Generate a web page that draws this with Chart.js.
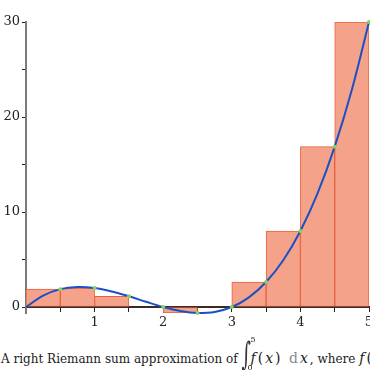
<!DOCTYPE html>
<html>
<head>
<meta charset="utf-8">
<script src="https://cdn.jsdelivr.net/npm/chart.js@4/dist/chart.umd.min.js"></script>
<style>
  html, body { margin: 0; padding: 0; background: #fff; width: 370px; height: 370px; overflow: hidden; }
  #wrap { position: absolute; left: 0; top: 0; width: 390px; height: 335px; }
  #caption { position: absolute; left: 1px; top: 351px; white-space: nowrap; font: 12px 'DejaVu Serif', serif; color: #222; line-height: 14px; }
  .m { font-size: 14px; letter-spacing: 2px; }
  .m i { font-style: italic; }
  .int { position: relative; display: inline-block; width: 9px; height: 14px; vertical-align: top; }
  .int .sign { position: absolute; left: 0px; top: -6px; font-size: 18px; line-height: 18px; color: #333; transform: scaleY(1.8); }
  .int .hi { position: absolute; left: 9px; top: -15px; font-size: 8px; line-height: 8px; }
  .int .lo { position: absolute; left: 6px; top: 13px; font-size: 8px; line-height: 8px; }
  .d { color: #888; font-style: normal; }
</style>
</head>
<body>
<div id="wrap"><canvas id="riemann" width="390" height="335"></canvas></div>
<div id="caption">A right Riemann sum approximation of <span class="int"><span class="sign">∫</span><span class="hi">5</span><span class="lo">0</span></span><span class="m"><i>f</i>(<i>x</i>) <span class="d">d</span><i>x</i></span>, where <span class="m"><i>f</i>(<i>x</i>) = <i>x</i>(<i>x</i> − 2)(<i>x</i> − 3)</span></div>
<script>
// 長方形（右端点）: 中心と高さ
const rectCenters = [0.25, 0.75, 1.25, 1.75, 2.25, 2.75, 3.25, 3.75, 4.25, 4.75];
const rectHeights = [1.88, 2.0, 1.13, 0, -0.63, 0, 2.63, 8.0, 16.88, 30.0];
// 右端点の標本
const sampleX = [0.5, 1, 1.5, 2, 2.5, 3, 3.5, 4, 4.5, 5];
// 曲線
const curveX = [0, 0.25, 0.5, 0.75, 1, 1.25, 1.5, 1.75, 2, 2.25, 2.5, 2.75, 3, 3.25, 3.5, 3.75, 4, 4.25, 4.5, 4.75, 5];
const curveY = [0, 1.2, 1.88, 2.11, 2.0, 1.64, 1.13, 0.55, 0, -0.42, -0.63, -0.52, 0, 1.02, 2.63, 4.92, 8.0, 11.95, 16.88, 22.86, 30.0];
// 目盛り
const xTicks = [0, 0.5, 1, 1.5, 2, 2.5, 3, 3.5, 4, 4.5, 5];
const xLabels = ['', '', '1', '', '2', '', '3', '', '4', '', '5'];
const yTicks = [0, 5, 10, 15, 20, 25, 30];
const yLabels = ['0', '', '10', '', '20', '', '30'];

const ctx = document.getElementById('riemann').getContext('2d');
const tickFont = { family: "'DejaVu Serif', serif", size: 13 };

new Chart(ctx, {
    type: 'bar',
    data: {
        datasets: [
            {
                type: 'line',
                data: sampleX.map((x, i) => ({ x, y: rectHeights[i] })),
                showLine: false,
                pointRadius: 2,
                pointBorderWidth: 0,
                pointBackgroundColor: '#7fd65a',
                clip: false,
                order: 0
            },
            {
                type: 'line',
                data: curveX.map((x, i) => ({ x, y: curveY[i] })),
                borderColor: '#1c4fc4',
                borderWidth: 2,
                pointRadius: 0,
                tension: 0.35,
                fill: false,
                clip: false,
                order: 1
            },
            {
                type: 'bar',
                data: rectCenters.map((x, i) => ({ x, y: rectHeights[i] })),
                backgroundColor: '#f4a38a',
                borderColor: '#e8603f',
                borderWidth: 1,
                borderSkipped: false,
                barPercentage: 1,
                categoryPercentage: 1,
                order: 2
            }
        ]
    },
    options: {
        responsive: false,
        animation: false,
        layout: { padding: { top: 22, right: 21, bottom: 22, left: 0 } },
        plugins: { legend: { display: false }, tooltip: { enabled: false } },
        scales: {
            x: {
                type: 'linear',
                min: 0,
                max: 5,
                offset: false,
                position: { y: 0 },
                z: 1,
                afterBuildTicks: (scale) => { scale.ticks = xTicks.map(v => ({ value: v })); },
                grid: { offset: false, drawOnChartArea: false, tickLength: 4, tickColor: '#222', tickWidth: 1 },
                border: { color: '#3b2a20', width: 2 },
                ticks: {
                    font: tickFont, color: '#222', padding: 4, maxRotation: 0, autoSkip: false,
                    callback: (v, i) => xLabels[i]
                }
            },
            y: {
                type: 'linear',
                min: -0.63,
                max: 30,
                z: 1,
                afterBuildTicks: (scale) => { scale.ticks = yTicks.map(v => ({ value: v })); },
                afterFit: (scale) => { scale.width = 26; },
                grid: { drawOnChartArea: false, tickLength: 4, tickColor: '#222', tickWidth: 1 },
                border: { color: '#7a7a7a', width: 2 },
                ticks: {
                    font: tickFont, color: '#222', padding: 2, autoSkip: false,
                    callback: (v, i) => yLabels[i]
                }
            }
        }
    }
});
</script>
</body>
</html>
